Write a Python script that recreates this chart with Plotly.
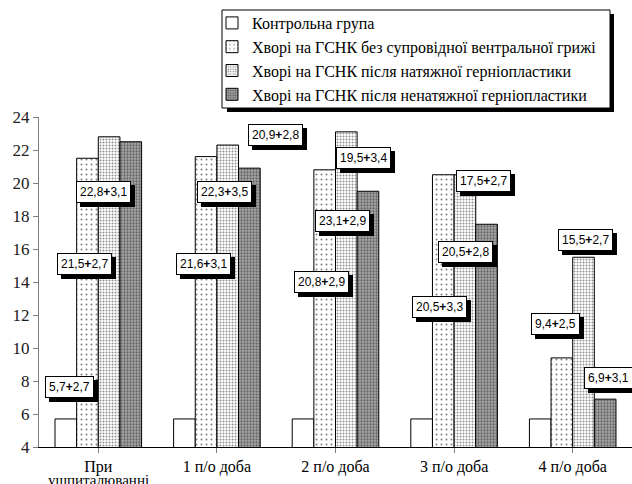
import plotly.graph_objects as go

categories = ["При ушпиталюванні", "1 п/о доба", "2 п/о доба", "3 п/о доба", "4 п/о доба"]
series_names = [
    "Контрольна група",
    "Хворі на ГСНК без супровідної вентральної грижі",
    "Хворі на ГСНК після натяжної герніопластики",
    "Хворі на ГСНК після ненатяжної герніопластики",
]
control = [5.7, 5.7, 5.7, 5.7, 5.7]
no_hernia = [21.5, 21.6, 20.8, 20.5, 9.4]
tension = [22.8, 22.3, 23.1, 20.5, 15.5]
tension_free = [22.5, 20.9, 19.5, 17.5, 6.9]

# label texts (mean, sd) per category
label_cat = [0, 0, 0, 0, 1, 1, 1, 2, 2, 2, 3, 3, 3, 4, 4, 4]
label_mean = ["5,7", "21,5", "22,8", "22,5", "21,6", "22,3", "20,9", "20,8", "23,1", "19,5",
              "20,5", "20,5", "17,5", "9,4", "15,5", "6,9"]
label_sd = ["2,7", "2,7", "3,1", "3,2", "3,1", "3,5", "2,8", "2,9", "2,9", "3,4",
            "3,3", "2,8", "2,7", "2,5", "2,7", "3,1"]
# placement of each label box (offset from category centre, y level)
label_dx = [-0.24, -0.12, 0.044, 0.234, -0.117, 0.068, 0.49, -0.122, 0.063, 0.232,
            -0.119, 0.092, 0.244, -0.149, 0.112, 0.298]
label_y = [7.64, 15.09, 19.48, 24.55, 15.09, 19.45, 22.9, 14.0, 17.7, 21.5,
           12.48, 15.8, 20.1, 11.45, 16.55, 8.18]

SERIF = "Liberation Serif"
SANS = "Liberation Sans"

values = [control, no_hernia, tension, tension_free]
patterns = [
    dict(shape="", bgcolor="white"),
    dict(shape=".", fgcolor="black", bgcolor="white", size=5, solidity=0.12),
    dict(shape=".", fgcolor="#222222", bgcolor="white", size=3, solidity=0.35),
    dict(shape=".", fgcolor="#222222", bgcolor="#a8a8a8", size=3, solidity=0.45),
]

fig = go.Figure()
for name, vals, pat in zip(series_names, values, patterns):
    fig.add_trace(go.Bar(
        x=list(range(len(categories))), y=vals, name=name,
        marker=dict(color="white", line=dict(color="black", width=1), pattern=pat),
    ))

W, H = 632, 484
ml, mr, mt, mb = 39, 0, 117, 37
pw, ph = W - ml - mr, H - mt - mb

def px_to_paper_x(p):
    return (p - ml) / pw

def px_to_paper_y(p):
    return (H - mb - p) / ph

annotations = []
for c, m, s, dx, yy in zip(label_cat, label_mean, label_sd, label_dx, label_y):
    txt = f"{m}<b>+</b>{s}"
    annotations.append(dict(x=c + dx, y=yy, xref="x", yref="y", text=txt, showarrow=False,
                            font=dict(family=SANS, size=12, color="black"),
                            bgcolor="black", bordercolor="black", borderwidth=1, borderpad=3,
                            xshift=4, yshift=-4))
    annotations.append(dict(x=c + dx, y=yy, xref="x", yref="y", text=txt, showarrow=False,
                            font=dict(family=SANS, size=12, color="black"),
                            bgcolor="white", bordercolor="black", borderwidth=1, borderpad=3))

# tick labels: the first category wraps onto a second line placed as an annotation
first_words = categories[0].split(" ")
ticktext = [first_words[0]] + categories[1:]
annotations.append(dict(x=0, y=px_to_paper_y(480), xref="x", yref="paper",
                        text=" ".join(first_words[1:]), showarrow=False, yanchor="middle",
                        font=dict(family=SERIF, size=15, color="black")))

# legend frame with drop shadow
shapes = [
    dict(type="rect", xref="paper", yref="paper",
         x0=px_to_paper_x(227), x1=px_to_paper_x(614),
         y0=px_to_paper_y(112), y1=px_to_paper_y(14),
         fillcolor="black", line=dict(width=0), layer="above"),
    dict(type="rect", xref="paper", yref="paper",
         x0=px_to_paper_x(222), x1=px_to_paper_x(610),
         y0=px_to_paper_y(108), y1=px_to_paper_y(10),
         fillcolor="white", line=dict(color="black", width=1), layer="above"),
]

fig.update_layout(
    width=W, height=H,
    margin=dict(l=ml, r=mr, t=mt, b=mb),
    paper_bgcolor="white", plot_bgcolor="white",
    barmode="group", bargap=0.27, bargroupgap=0,
    showlegend=True,
    legend=dict(x=px_to_paper_x(212), y=px_to_paper_y(6), xanchor="left", yanchor="top",
                bgcolor="rgba(0,0,0,0)", borderwidth=0,
                font=dict(family=SERIF, size=16, color="black"),
                itemwidth=30, tracegroupgap=0),
    xaxis=dict(tickmode="array", tickvals=list(range(len(categories))), ticktext=ticktext,
               range=[-0.5, len(categories) - 0.5], showgrid=False, zeroline=False,
               showline=True, linecolor="black", linewidth=1,
               ticks="outside", ticklen=5, tickcolor="#808080",
               tickfont=dict(family=SERIF, size=16, color="black")),
    yaxis=dict(range=[4, 24], tickmode="array", tickvals=list(range(4, 25, 2)),
               showgrid=False, zeroline=False, showline=True, linecolor="#808080", linewidth=1,
               ticks="outside", ticklen=5, tickcolor="#808080",
               tickfont=dict(family=SERIF, size=17, color="#202020")),
    annotations=annotations,
    shapes=shapes,
)
fig.update_xaxes(tickson="boundaries")

fig.write_html("out.html", config={"displayModeBar": False},
               post_script="document.body.style.margin='0';document.body.style.overflow='hidden';")
